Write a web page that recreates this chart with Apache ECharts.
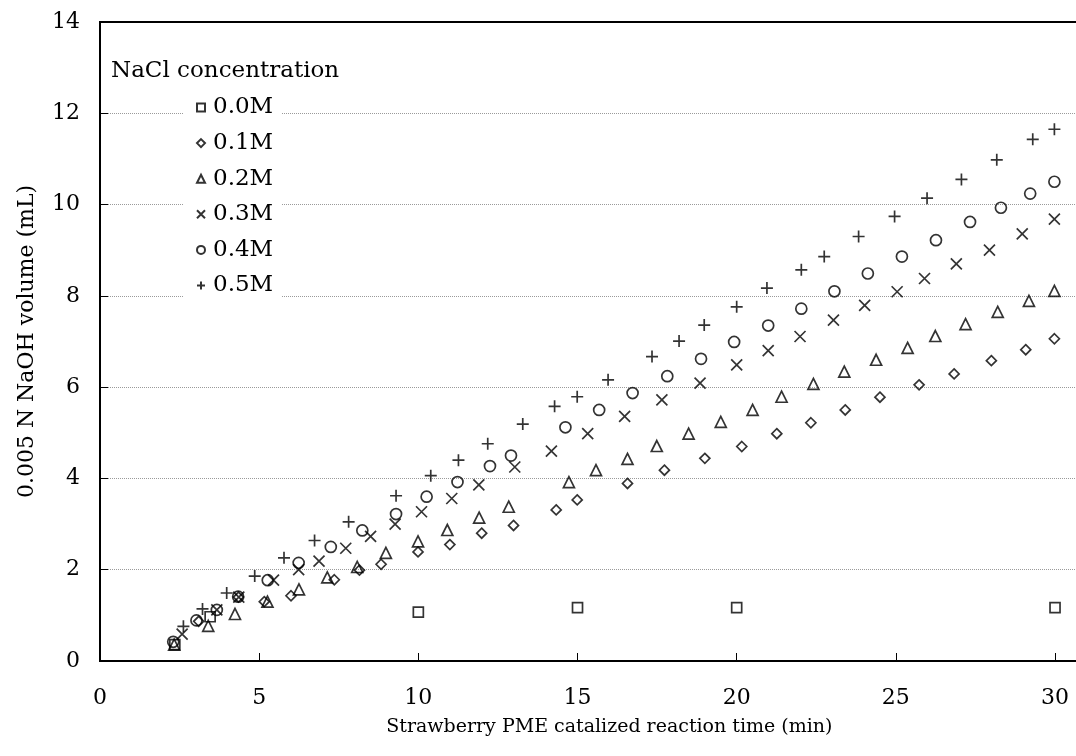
<!DOCTYPE html>
<html>
<head>
<meta charset="utf-8">
<script src="https://cdn.jsdelivr.net/npm/echarts@6/dist/echarts.min.js"></script>
<style>
  html, body { margin: 0; padding: 0; background: #fff; }
  #chart { width: 1076px; height: 756px; }
</style>
</head>
<body>
<div id="chart"></div>
<script>
// Titrated NaOH volume versus reaction time, one series per NaCl concentration.
const seriesNames = ['0.0M', '0.1M', '0.2M', '0.3M', '0.4M', '0.5M'];
const xTickValues = [0, 5, 10, 15, 20, 25, 30];

// [time (min), NaOH volume (mL)]
const nacl00 = [[2.35, 0.36], [3.46, 0.97], [10.0, 1.07], [15.0, 1.17], [20.0, 1.17], [30.0, 1.17]];
const nacl01 = [[3.1, 0.87], [4.35, 1.40], [5.16, 1.30], [6.0, 1.43], [7.36, 1.78], [8.15, 1.99],
  [8.83, 2.12], [9.99, 2.39], [10.99, 2.55], [11.99, 2.80], [12.99, 2.97], [14.33, 3.31],
  [14.99, 3.53], [16.57, 3.89], [17.73, 4.18], [19.0, 4.44], [20.16, 4.70], [21.26, 4.98],
  [22.33, 5.22], [23.41, 5.50], [24.5, 5.78], [25.73, 6.05], [26.83, 6.29], [28.0, 6.58],
  [29.08, 6.82], [29.98, 7.06]];
const nacl02 = [[2.33, 0.36], [3.40, 0.77], [4.24, 1.03], [5.26, 1.30], [6.25, 1.57], [7.14, 1.83],
  [8.08, 2.06], [8.98, 2.37], [9.99, 2.62], [10.91, 2.87], [11.91, 3.14], [12.84, 3.38],
  [14.73, 3.92], [15.58, 4.18], [16.57, 4.43], [17.49, 4.71], [18.49, 4.98], [19.5, 5.24],
  [20.5, 5.50], [21.41, 5.79], [22.41, 6.07], [23.38, 6.34], [24.38, 6.60], [25.37, 6.86],
  [26.24, 7.12], [27.19, 7.38], [28.2, 7.65], [29.18, 7.89], [29.98, 8.11]];
const nacl03 = [[2.58, 0.59], [3.67, 1.12], [4.36, 1.40], [5.45, 1.77], [6.24, 2.0], [6.88, 2.19],
  [7.72, 2.47], [8.5, 2.73], [9.27, 3.0], [10.1, 3.27], [11.05, 3.56], [11.9, 3.86],
  [13.03, 4.25], [14.18, 4.60], [15.32, 4.98], [16.48, 5.36], [17.65, 5.72], [18.85, 6.09],
  [20.0, 6.49], [20.99, 6.80], [21.99, 7.11], [23.04, 7.47], [24.02, 7.79], [25.04, 8.09],
  [25.9, 8.38], [26.9, 8.70], [27.94, 9.0], [28.97, 9.36], [29.98, 9.68]];
const nacl04 = [[2.30, 0.42], [3.03, 0.89], [3.67, 1.12], [4.34, 1.41], [5.27, 1.77], [6.24, 2.15],
  [7.25, 2.50], [8.24, 2.86], [9.30, 3.22], [10.26, 3.60], [11.23, 3.92], [12.25, 4.27],
  [12.91, 4.50], [14.62, 5.12], [15.68, 5.50], [16.73, 5.87], [17.82, 6.24], [18.88, 6.62],
  [19.92, 6.99], [20.99, 7.35], [22.03, 7.72], [23.07, 8.10], [24.12, 8.49], [25.19, 8.86],
  [26.26, 9.22], [27.33, 9.62], [28.3, 9.93], [29.22, 10.24], [29.98, 10.50]];
const nacl05 = [[2.62, 0.76], [3.22, 1.14], [3.98, 1.49], [4.86, 1.86], [5.78, 2.26], [6.74, 2.64],
  [7.81, 3.05], [9.3, 3.62], [10.39, 4.06], [11.26, 4.40], [12.18, 4.76], [13.28, 5.19],
  [14.28, 5.58], [14.99, 5.79], [15.96, 6.16], [17.34, 6.67], [18.19, 7.01], [18.98, 7.36],
  [20.0, 7.76], [20.95, 8.17], [22.03, 8.57], [22.75, 8.86], [23.83, 9.30], [24.96, 9.74],
  [25.98, 10.14], [27.06, 10.55], [28.17, 10.98], [29.3, 11.43], [29.98, 11.65]];

const seriesData = [nacl00, nacl01, nacl02, nacl03, nacl04, nacl05];

const FONT = '"DejaVu Serif", serif';
const markers = [
  { symbol: 'rect', size: 10 },
  { symbol: 'diamond', size: 10 },
  { symbol: 'triangle', size: 11 },
  { symbol: 'path://M0,0L10,10M10,0L0,10', size: 11 },
  { symbol: 'circle', size: 11 },
  { symbol: 'path://M5,0L5,10M0,5L10,5', size: 12 }
];

const chart = echarts.init(document.getElementById('chart'), null, { renderer: 'canvas' });

chart.setOption({
  animation: false,
  backgroundColor: '#fff',
  title: {
    text: 'NaCl concentration',
    left: 111,
    top: 60,
    padding: 0,
    textStyle: { fontFamily: FONT, fontSize: 23, fontWeight: 'normal', color: '#000' }
  },
  legend: {
    orient: 'vertical',
    left: 183,
    top: 88,
    padding: [8, 8, 8, 13],
    backgroundColor: '#fff',
    itemWidth: 8,
    itemHeight: 8,
    itemGap: 12.6,
    data: seriesNames,
    textStyle: { fontFamily: FONT, fontSize: 23, color: '#000', padding: [0, 0, 0, 3] }
  },
  // the time axis runs on to 32 min, past the right edge of the page
  grid: { left: 100, top: 22, right: -42.7, bottom: 95,
    outerBoundsMode: 'none', containLabel: false,
    show: true, borderColor: '#000', borderWidth: 2, backgroundColor: 'transparent' },
  xAxis: {
    type: 'value',
    min: 0,
    max: 32,
    name: 'Strawberry PME catalized reaction time (min)',
    nameLocation: 'middle',
    nameGap: 57,
    nameTextStyle: { fontFamily: FONT, fontSize: 19, color: '#000' },
    axisLine: { onZero: false, lineStyle: { color: '#000', width: 2 } },
    axisTick: { inside: true, length: 8, customValues: xTickValues, lineStyle: { color: '#000', width: 1 } },
    axisLabel: { margin: 26, customValues: xTickValues, fontFamily: FONT, fontSize: 22, color: '#000' },
    splitLine: { show: false }
  },
  yAxis: {
    type: 'value',
    min: 0,
    max: 14,
    interval: 2,
    name: '0.005 N NaOH volume (mL)',
    nameLocation: 'middle',
    nameGap: 62,
    nameTextStyle: { fontFamily: FONT, fontSize: 22, color: '#000' },
    axisLine: { show: true, onZero: false, lineStyle: { color: '#000', width: 2 } },
    axisTick: { show: true, inside: true, length: 8, lineStyle: { color: '#000', width: 1 } },
    axisLabel: { margin: 20, fontFamily: FONT, fontSize: 22, color: '#000' },
    splitLine: { show: true, showMinLine: false, showMaxLine: false,
      lineStyle: { color: '#9a9a9a', width: 1, type: [1, 1] } }
  },
  series: seriesNames.map((name, i) => ({
    name,
    type: 'scatter',
    data: seriesData[i],
    symbol: markers[i].symbol,
    symbolSize: markers[i].size,
    itemStyle: { color: 'transparent', borderColor: '#000', borderWidth: 1.7 },
    emphasis: { disabled: true }
  }))
});
</script>
</body>
</html>
